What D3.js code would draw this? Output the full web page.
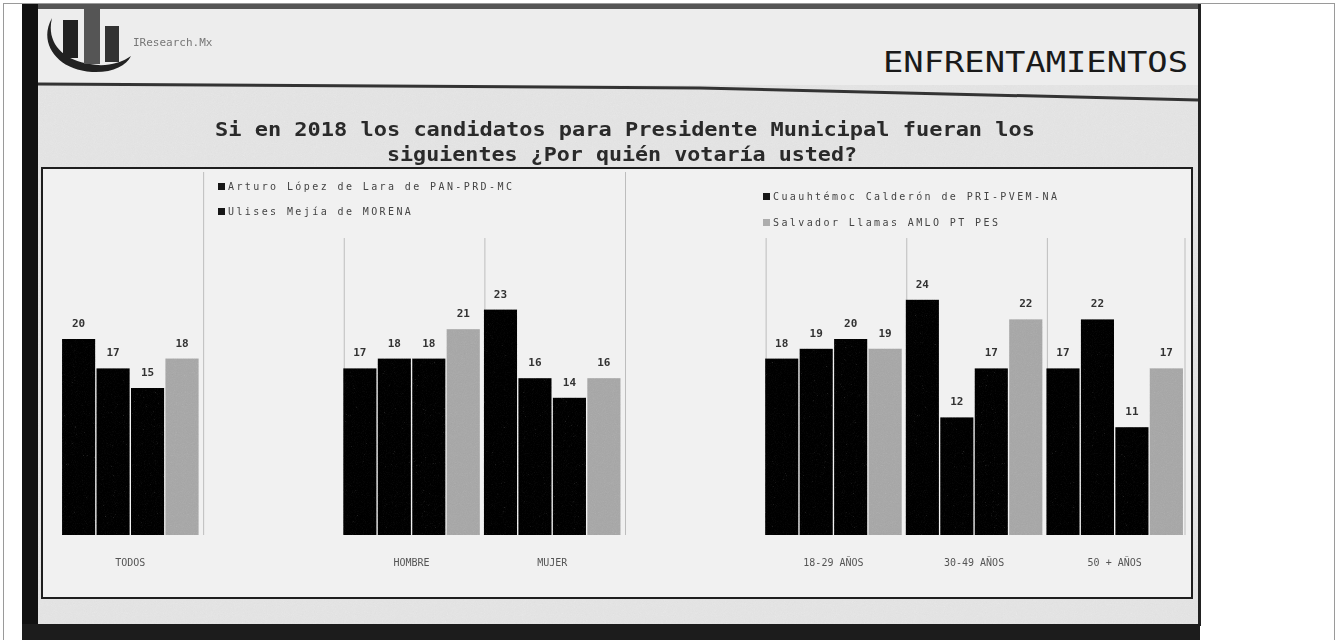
<!DOCTYPE html>
<html>
<head>
<meta charset="utf-8">
<script src="https://cdn.jsdelivr.net/npm/d3@7"></script>
<style>
  body { margin: 0; background: #fff; }
  svg { display: block; }
  text { font-family: "DejaVu Sans Mono", monospace; }
</style>
</head>
<body>
<script>
const W = 1339, H = 640;

// data
const categories = ['TODOS', '', 'HOMBRE', 'MUJER', '', '18-29 AÑOS', '30-49 AÑOS', '50 + AÑOS'];
const series = [
  'Arturo López de Lara de PAN-PRD-MC',
  'Ulises Mejía de MORENA',
  'Cuauhtémoc Calderón de PRI-PVEM-NA',
  'Salvador Llamas AMLO PT PES'
];
const arturo     = [20, null, 17, 23, null, 18, 24, 17];
const ulises     = [17, null, 18, 16, null, 19, 12, 22];
const cuauhtemoc = [15, null, 18, 14, null, 20, 17, 11];
const salvador   = [18, null, 21, 16, null, 19, 22, 17];
const values = [arturo, ulises, cuauhtemoc, salvador];

const colors = ['#121212', '#141414', '#181818', '#adadad'];

const svg = d3.select('body').append('svg')
  .attr('width', W).attr('height', H);

const defs = svg.append('defs');
const grain = defs.append('filter').attr('id', 'grain')
  .attr('x', 0).attr('y', 0).attr('width', 1).attr('height', 1);
grain.append('feTurbulence').attr('type', 'fractalNoise')
  .attr('baseFrequency', 0.9).attr('numOctaves', 2).attr('result', 'n');
grain.append('feColorMatrix').attr('in', 'n').attr('type', 'saturate').attr('values', 0).attr('result', 'g');
grain.append('feComposite').attr('in', 'SourceGraphic').attr('in2', 'g').attr('operator', 'arithmetic')
  .attr('k1', 0).attr('k2', 1).attr('k3', 0.12).attr('k4', -0.06);
defs.append('filter').attr('id', 'soft')
  .append('feGaussianBlur').attr('stdDeviation', 0.45);

// photo frame / screen
svg.append('rect').attr('x', 3.5).attr('y', 3.5).attr('width', 1331).attr('height', 640)
  .attr('fill', '#fff').attr('stroke', '#9a9a9a');
svg.append('rect').attr('x', 22).attr('y', 4).attr('width', 1178).attr('height', 636)
  .attr('fill', '#e6e6e6').attr('filter', 'url(#grain)');
svg.append('rect').attr('x', 22).attr('y', 4).attr('width', 1178).attr('height', 5).attr('fill', '#555');
svg.append('rect').attr('x', 22).attr('y', 4).attr('width', 16).attr('height', 636).attr('fill', '#111');
svg.append('rect').attr('x', 1198).attr('y', 4).attr('width', 3).attr('height', 622).attr('fill', '#222');

// header
svg.append('rect').attr('x', 38).attr('y', 9).attr('width', 1160).attr('height', 76)
  .attr('fill', '#ededed');
svg.append('path').attr('d', 'M38,84 L700,88 L1198,100')
  .attr('fill', 'none').attr('stroke', '#333').attr('stroke-width', 3);

// logo
const logo = svg.append('g').attr('filter', 'url(#soft)');
logo.append('path').attr('d', 'M52,18 C38,42 56,70 92,72 C112,73 126,66 131,56 C120,64 104,67 90,64 C62,60 46,42 52,18 Z')
  .attr('fill', '#222');
logo.append('rect').attr('x', 63).attr('y', 20).attr('width', 15).attr('height', 38).attr('fill', '#222');
logo.append('rect').attr('x', 84).attr('y', 9).attr('width', 16).attr('height', 55).attr('fill', '#555');
logo.append('rect').attr('x', 105).attr('y', 26).attr('width', 14).attr('height', 36).attr('fill', '#333');
svg.append('text').attr('x', 133).attr('y', 46).attr('font-size', 11).attr('fill', '#777')
  .attr('filter', 'url(#soft)').text('IResearch.Mx');

svg.append('text').attr('x', 883).attr('y', 72).attr('font-size', 29)
  .attr('font-family', 'DejaVu Sans Condensed, DejaVu Sans')
  .attr('textLength', 305).attr('lengthAdjust', 'spacingAndGlyphs')
  .attr('fill', '#1a1a1a').text('ENFRENTAMIENTOS');

// question
const title = svg.append('g').attr('fill', '#2a2a2a').attr('font-weight', 'bold')
  .attr('font-size', 19).attr('filter', 'url(#soft)');
title.append('text').attr('x', 215).attr('y', 136).attr('textLength', 820)
  .attr('lengthAdjust', 'spacingAndGlyphs')
  .text('Si en 2018 los candidatos para Presidente Municipal fueran los');
title.append('text').attr('x', 387).attr('y', 161).attr('textLength', 470)
  .attr('lengthAdjust', 'spacingAndGlyphs')
  .text('siguientes ¿Por quién votaría usted?');

// chart box
svg.append('rect').attr('x', 42).attr('y', 168).attr('width', 1150).attr('height', 430)
  .attr('fill', '#f1f1f1').attr('stroke', '#1e1e1e').attr('stroke-width', 2);

const x = d3.scaleBand().domain(d3.range(categories.length)).range([60, 1185]);
const xs = d3.scaleBand().domain(d3.range(series.length)).range([0, x.bandwidth()])
  .paddingInner(0.04).paddingOuter(0.06);
const y = d3.scaleLinear().domain([0, 25]).range([535, 290]);

// separators
svg.append('g').selectAll('line').data(d3.range(1, categories.length + 1)).join('line')
  .attr('x1', i => i < categories.length ? x(i) + 3 : x.range()[1])
  .attr('x2', i => i < categories.length ? x(i) + 3 : x.range()[1])
  .attr('y1', i => (i === 1 || i === 4) ? 172 : 238)
  .attr('y2', y(0))
  .attr('stroke', '#bdbdbd').attr('stroke-width', 1);

const groups = svg.append('g').selectAll('g')
  .data(series).join('g');

groups.selectAll('rect')
  .data((s, si) => values[si].map((v, ci) => ({ si, ci, v })).filter(d => d.v != null))
  .join('rect')
  .attr('x', d => x(d.ci) + xs(d.si))
  .attr('width', xs.bandwidth())
  .attr('y', d => y(d.v))
  .attr('height', d => y(0) - y(d.v))
  .attr('fill', d => colors[d.si])
  .attr('filter', 'url(#grain)');

groups.selectAll('text')
  .data((s, si) => values[si].map((v, ci) => ({ si, ci, v })).filter(d => d.v != null))
  .join('text')
  .attr('x', d => x(d.ci) + xs(d.si) + xs.bandwidth() / 2)
  .attr('y', d => y(d.v) - 12)
  .attr('text-anchor', 'middle')
  .attr('font-size', 11).attr('font-weight', 'bold')
  .attr('fill', '#333').attr('filter', 'url(#soft)')
  .text(d => d.v);

// category labels
svg.append('g').selectAll('text').data(categories).join('text')
  .attr('x', (d, i) => x(i) + x.bandwidth() / 2)
  .attr('y', 566)
  .attr('text-anchor', 'middle')
  .attr('font-size', 10).attr('fill', '#555')
  .attr('filter', 'url(#soft)')
  .text(d => d);

// legend
const legendPos = [[218, 190], [218, 215], [763, 200], [763, 226]];
const legend = svg.append('g').selectAll('g').data(series).join('g')
  .attr('transform', (d, i) => `translate(${legendPos[i][0]},${legendPos[i][1]})`)
  .attr('filter', 'url(#soft)');
legend.append('rect').attr('x', 0).attr('y', -7).attr('width', 7).attr('height', 7)
  .attr('fill', (d, i) => colors[i]);
legend.append('text').attr('x', 10).attr('y', 0)
  .attr('font-size', 10).attr('letter-spacing', 2.4).attr('fill', '#444')
  .text(d => d);

// bottom strip of the screen
svg.append('rect').attr('x', 22).attr('y', 624).attr('width', 1178).attr('height', 16)
  .attr('fill', '#1c1c1c');
</script>
</body>
</html>
